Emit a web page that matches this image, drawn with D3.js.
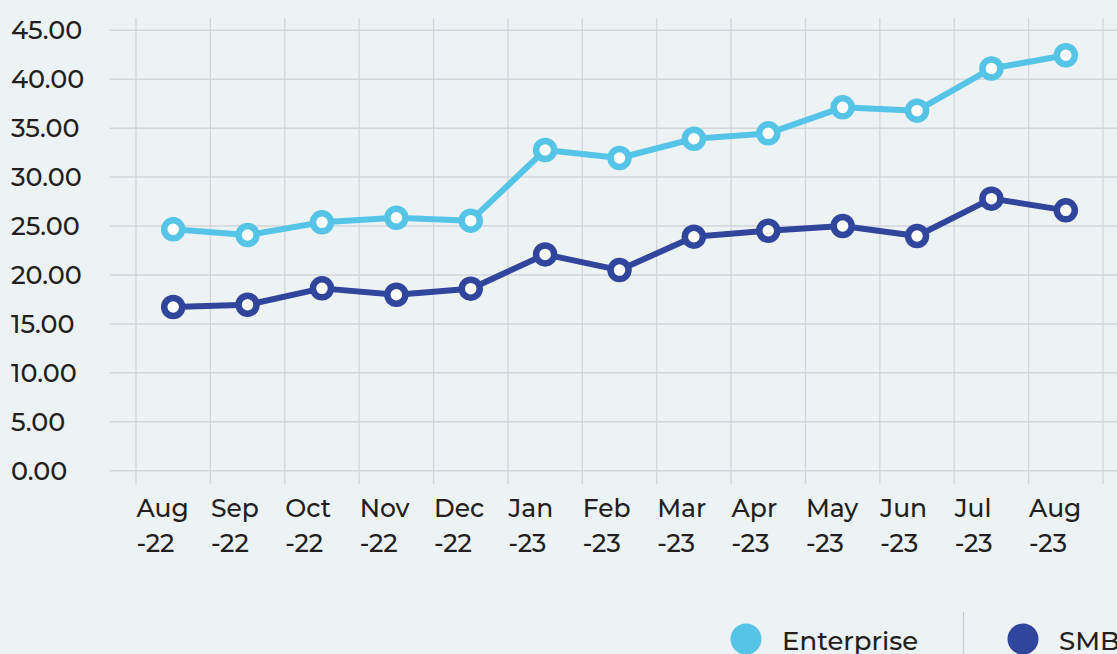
<!DOCTYPE html>
<html>
<head>
<meta charset="utf-8">
<script src="https://cdn.jsdelivr.net/npm/d3@7"></script>
<style>
  html, body { margin: 0; padding: 0; background: #edf2f5; }
  svg { display: block; font-family: Montserrat, "DejaVu Sans", sans-serif; font-weight: 500; }
</style>
</head>
<body>
<div id="chart"></div>
<script>
// Data
const months = ["Aug-22", "Sep-22", "Oct-22", "Nov-22", "Dec-22", "Jan-23", "Feb-23",
                "Mar-23", "Apr-23", "May-23", "Jun-23", "Jul-23", "Aug-23"];
const enterprise = [24.66, 24.08, 25.38, 25.85, 25.55, 32.77, 31.95, 33.92, 34.47, 37.13, 36.79, 41.1, 42.45];
const smb = [16.73, 16.96, 18.63, 17.98, 18.6, 22.1, 20.5, 23.91, 24.52, 25.0, 23.98, 27.8, 26.6];
const yTicks = [0, 5, 10, 15, 20, 25, 30, 35, 40, 45];
const seriesNames = ["Enterprise", "SMB"];
const colors = { Enterprise: "#56c4e6", SMB: "#30459c" };

const W = 1117, H = 654;

const svg = d3.select("#chart").append("svg")
    .attr("width", W)
    .attr("height", H);

// Scales
const x = d3.scaleBand()
    .domain(months)
    .range([136, 1103])
    .padding(0);
const y = d3.scaleLinear()
    .domain([0, 45])
    .range([470.7, 30.3]);

const gridColor = "#d2d5d9";
const textColor = "#231f20";

// Horizontal grid + y labels
const yAxis = svg.append("g");
yAxis.selectAll("line")
    .data(yTicks)
    .enter().append("line")
    .attr("x1", 110)
    .attr("x2", W)
    .attr("y1", d => y(d))
    .attr("y2", d => y(d))
    .attr("stroke", gridColor)
    .attr("stroke-width", 1.5);

yAxis.selectAll("text")
    .data(yTicks)
    .enter().append("text")
    .attr("x", 11)
    .attr("y", d => y(d))
    .attr("dy", "0.36em")
    .attr("fill", textColor)
    .style("font-size", "25.5px")
    .text(d => d.toFixed(2));

// Vertical grid (band edges)
const edges = months.map(m => x(m)).concat([x(months[months.length - 1]) + x.bandwidth()]);
svg.append("g").selectAll("line")
    .data(edges)
    .enter().append("line")
    .attr("x1", d => d)
    .attr("x2", d => d)
    .attr("y1", 18)
    .attr("y2", 484)
    .attr("stroke", gridColor)
    .attr("stroke-width", 1.3);

// X labels, two lines, left aligned on band start
const xLab = svg.append("g").selectAll("text")
    .data(months)
    .enter().append("text")
    .attr("x", d => x(d) + 0.5)
    .attr("y", 517)
    .attr("fill", textColor)
    .style("font-size", "25px");
xLab.append("tspan")
    .attr("x", d => x(d) + 0.5)
    .text(d => d.split("-")[0]);
xLab.append("tspan")
    .attr("x", d => x(d) + 0.5)
    .attr("dy", 35)
    .text(d => "-" + d.split("-")[1]);

// Lines + markers
const series = [
  { name: "Enterprise", values: enterprise },
  { name: "SMB", values: smb }
];
const cx = i => x(months[i]) + x.bandwidth() / 2;
const line = d3.line()
    .x((d, i) => cx(i))
    .y(d => y(d));

series.forEach(s => {
  const g = svg.append("g");
  g.append("path")
      .datum(s.values)
      .attr("d", line)
      .attr("fill", "none")
      .attr("stroke", colors[s.name])
      .attr("stroke-width", 6)
      .attr("stroke-linejoin", "round");
  g.selectAll("circle")
      .data(s.values)
      .enter().append("circle")
      .attr("cx", (d, i) => cx(i))
      .attr("cy", d => y(d))
      .attr("r", 9)
      .attr("fill", "#ffffff")
      .attr("stroke", colors[s.name])
      .attr("stroke-width", 6.5);
});

// Legend
const legend = svg.append("g");
const legendX = [746, 1023];
seriesNames.forEach((n, i) => {
  legend.append("circle")
      .attr("cx", legendX[i])
      .attr("cy", 639)
      .attr("r", 15.5)
      .attr("fill", colors[n]);
  legend.append("text")
      .attr("x", legendX[i] + 36)
      .attr("y", 650)
      .attr("fill", textColor)
      .style("font-size", "26px")
      .text(n);
});
legend.append("line")
    .attr("x1", 963.5)
    .attr("x2", 963.5)
    .attr("y1", 612)
    .attr("y2", H)
    .attr("stroke", "#c9ccd0")
    .attr("stroke-width", 1.2);
</script>
</body>
</html>
